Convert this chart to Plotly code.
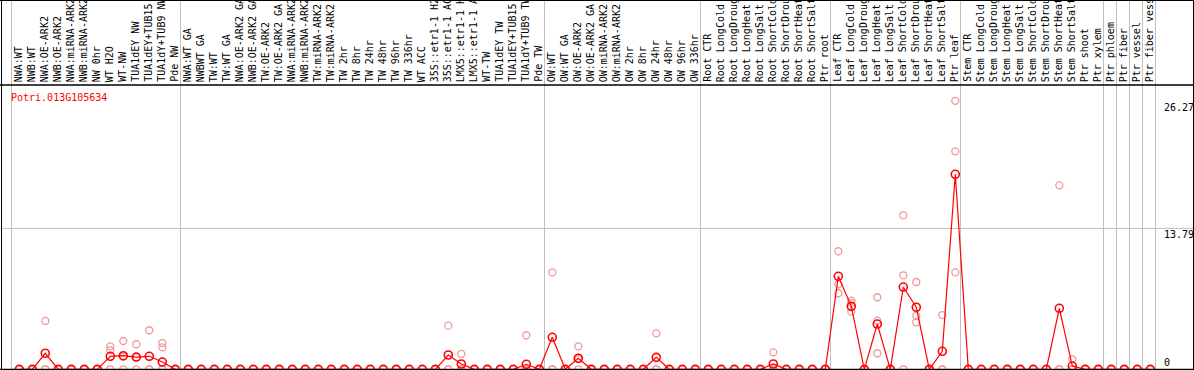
import plotly.graph_objects as go

title_text = "Potri.013G105634"

categories = [
    "NWA:WT", "NWB:WT", "NWA:OE-ARK2", "NWB:OE-ARK2", "NWA:miRNA-ARK2", "NWB:miRNA-ARK2",
    "NW 0hr", "WT H2O", "WT-NW", "TUA1dEY NW", "TUA1dEY+TUB15 NW", "TUA1dY+TUB9 NW", "Pde NW",
    "NWA:WT GA", "NWBWT GA", "TW:WT", "TW:WT GA", "NWA:OE-ARK2 GA", "NWB:OE-ARK2 GA",
    "TW:OE-ARK2", "TW:OE-ARK2 GA", "NWA:miRNA-ARK2", "NWB:miRNA-ARK2", "TW:miRNA-ARK2",
    "TW:miRNA-ARK2", "TW 2hr", "TW 8hr", "TW 24hr", "TW 48hr", "TW 96hr", "TW 336hr", "WT ACC",
    "35S::etr1-1 H2O", "35S::etr1-1 ACC", "LMX5::etr1-1 H2O", "LMX5::etr1-1 ACC", "WT-TW",
    "TUA1dEY TW", "TUA1dEY+TUB15 TW", "TUA1dY+TUB9 TW", "Pde TW",
    "OW:WT", "OW:WT GA", "OW:OE-ARK2", "OW:OE-ARK2 GA", "OW:miRNA-ARK2", "OW:miRNA-ARK2",
    "OW 2hr", "OW 8hr", "OW 24hr", "OW 48hr", "OW 96hr", "OW 336hr",
    "Root CTR", "Root LongCold", "Root LongDrought", "Root LongHeat", "Root LongSalt",
    "Root ShortCold", "Root ShortDrought", "Root ShortHeat", "Root ShortSalt", "Ptr root",
    "Leaf CTR", "Leaf LongCold", "Leaf LongDrought", "Leaf LongHeat", "Leaf LongSalt",
    "Leaf ShortCold", "Leaf ShortDrought", "Leaf ShortHeat", "Leaf ShortSalt", "Ptr leaf",
    "Stem CTR", "Stem LongCold", "Stem LongDrought", "Stem LongHeat", "Stem LongSalt",
    "Stem ShortCold", "Stem ShortDrought", "Stem ShortHeat", "Stem ShortSalt", "Ptr shoot",
    "Ptr xylem", "Ptr phloem", "Ptr fiber", "Ptr vessel", "Ptr fiber vessel",
]

group_sizes = [13, 28, 12, 10, 10, 11, 1, 1, 1, 1]

mean_values = [
    0, 0, 1.57, 0, 0, 0, 0, 1.27, 1.33, 1.20, 1.27, 0.71, 0,
    0, 0, 0, 0, 0, 0, 0, 0, 0, 0, 0, 0, 0, 0, 0, 0, 0, 0, 0, 0, 1.40, 0.52, 0, 0, 0, 0, 0.49, 0,
    3.13, 0, 1.08, 0, 0, 0, 0, 0, 1.17, 0, 0, 0,
    0, 0, 0, 0, 0, 0.52, 0, 0, 0, 0,
    9.10, 6.16, 0, 4.43, 0, 8.05, 6.07, 0, 1.76, 19.08,
    0, 0, 0, 0, 0, 0, 0, 5.97, 0.32, 0, 0,
    0, 0, 0, 0,
]

rep1_values = [
    0, 0, 4.73, 0, 0, 0, 0, 2.25, 2.77, 2.45, 3.82, 2.57, 0,
    0, 0, 0, 0, 0, 0, 0, 0, 0, 0, 0, 0, 0, 0, 0, 0, 0, 0, 0, 0, 4.27, 1.50, 0, 0, 0, 0, 3.33, 0,
    9.49, 0, 2.25, 0, 0, 0, 0, 0, 3.52, 0, 0, 0,
    0, 0, 0, 0, 0, 1.66, 0, 0, 0, 0,
    11.55, 6.71, 0, 7.05, 0, 15.07, 8.54, 0, 5.31, 26.27,
    0, 0, 0, 0, 0, 0, 0, 18.00, 0.98, 0, 0,
    0, 0, 0, 0,
]

rep2_values = [
    0, 0, 0, 0, 0, 0, 0, 1.86, 1.23, 1.15, 0, 2.15, 0,
    0, 0, 0, 0, 0, 0, 0, 0, 0, 0, 0, 0, 0, 0, 0, 0, 0, 0, 0, 0, 0, 0, 0, 0, 0, 0, 0, 0,
    0, 0, 0.99, 0, 0, 0, 0, 0, 0, 0, 0, 0,
    0, 0, 0, 0, 0, 0, 0, 0, 0, 0,
    8.32, 6.49, 0, 4.76, 0, 9.20, 5.22, 0, 0, 21.33,
    0, 0, 0, 0, 0, 0, 0, 0, 0, 0, 0,
    0, 0, 0, 0,
]

rep3_values = [
    0, 0, 0, 0, 0, 0, 0, 0, 0, 0, 0, 0, 0,
    0, 0, 0, 0, 0, 0, 0, 0, 0, 0, 0, 0, 0, 0, 0, 0, 0, 0, 0, 0, 0, 0, 0, 0, 0, 0, 0, 0,
    0, 0, 0, 0, 0, 0, 0, 0, 0, 0, 0, 0,
    0, 0, 0, 0, 0, 0, 0, 0, 0, 0,
    7.44, 5.64, 0, 1.57, 0, 0, 4.60, 0, 0, 9.49,
    0, 0, 0, 0, 0, 0, 0, 0, 0, 0, 0,
    0, 0, 0, 0,
]

ytick_values = [0, 13.79, 26.27]
ytick_labels = ["0", "13.79", "26.27"]

# ---------------- layout geometry (pixels) ----------------
W, H = 1194, 370
X0_PX, STEP_PX = 19.3, 13.0      # pixel of first category, pixel step
Y0_PX, YSCALE = 369.3, 10.22     # pixel of value 0, pixels per unit
HEADER_PX = 85

xr = [-X0_PX / STEP_PX, (W - X0_PX) / STEP_PX]
yr = [(Y0_PX - H) / YSCALE, Y0_PX / YSCALE]

def px_x(p):
    return p / W

def px_y(p):
    return 1 - p / H

FONT = "DejaVu Sans Mono, Liberation Mono, monospace"
idx = list(range(len(categories)))

fig = go.Figure()

for reps in (rep1_values, rep2_values, rep3_values):
    fig.add_trace(go.Scatter(
        x=idx, y=reps, mode="markers",
        marker=dict(symbol="circle-open", size=7, color="#ef9a9a",
                    line=dict(width=1.3, color="#ef9a9a")),
        hoverinfo="skip", showlegend=False, cliponaxis=False,
    ))

fig.add_trace(go.Scatter(
    x=idx, y=mean_values, mode="lines+markers",
    line=dict(color="#ff0000", width=1.2),
    marker=dict(symbol="circle-open", size=8, color="#ff0000",
                line=dict(width=1.6, color="#ff0000")),
    showlegend=False, cliponaxis=False,
))

shapes = []
b = -0.6
bounds = [b]
for g in group_sizes:
    b += g
    bounds.append(b)
for bx in bounds:
    shapes.append(dict(type="line", xref="x", yref="paper", x0=bx, x1=bx, y0=0, y1=1,
                       line=dict(color="#c0c0c0", width=1), layer="below"))
shapes.append(dict(type="line", xref="paper", yref="y", x0=px_x(1), x1=px_x(1193),
                   y0=ytick_values[1], y1=ytick_values[1],
                   line=dict(color="#c0c0c0", width=1), layer="below"))
black = dict(color="#000000", width=1)
shapes.append(dict(type="line", xref="paper", yref="paper", x0=0, x1=1,
                   y0=px_y(HEADER_PX), y1=px_y(HEADER_PX), line=dict(color="#000000", width=1.5)))
shapes.append(dict(type="line", xref="paper", yref="paper", x0=0, x1=1,
                   y0=px_y(0.5), y1=px_y(0.5), line=black))
shapes.append(dict(type="line", xref="paper", yref="paper", x0=0, x1=1,
                   y0=px_y(369.5), y1=px_y(369.5), line=dict(color="#000000", width=1.5)))
shapes.append(dict(type="line", xref="paper", yref="paper", x0=px_x(1.5), x1=px_x(1.5),
                   y0=0, y1=1, line=black))
shapes.append(dict(type="line", xref="paper", yref="paper", x0=px_x(1193.5), x1=px_x(1193.5),
                   y0=0, y1=1, line=black))

annotations = []
for i, c in enumerate(categories):
    annotations.append(dict(
        x=i - 1.0 / STEP_PX, y=px_y(83), xref="x", yref="paper",
        text=c, showarrow=False, textangle=-90,
        xanchor="center", yanchor="bottom",
        font=dict(family=FONT, size=10, color="#000000"),
        borderpad=0,
    ))

annotations.append(dict(
    x=px_x(10), y=px_y(97), xref="paper", yref="paper", text=title_text,
    showarrow=False, xanchor="left", yanchor="middle",
    font=dict(family=FONT, size=10, color="#ff0000"), borderpad=0,
))

for v, lab in zip(ytick_values, ytick_labels):
    yanc = "bottom" if v == 0 else "top"
    annotations.append(dict(
        x=px_x(1163), y=v, xref="paper", yref="y", text=lab, showarrow=False,
        xanchor="left", yanchor=yanc,
        font=dict(family=FONT, size=10, color="#000000"), borderpad=0,
    ))

fig.update_layout(
    width=W, height=H,
    margin=dict(l=0, r=0, t=0, b=0),
    paper_bgcolor="white", plot_bgcolor="white",
    xaxis=dict(range=xr, visible=False, fixedrange=True),
    yaxis=dict(range=yr, visible=False, fixedrange=True),
    shapes=shapes, annotations=annotations,
    showlegend=False,
)

fig.write_html("out.html",
               config={"displayModeBar": False},
               post_script="document.body.style.margin='0';document.body.style.overflow='hidden';")
